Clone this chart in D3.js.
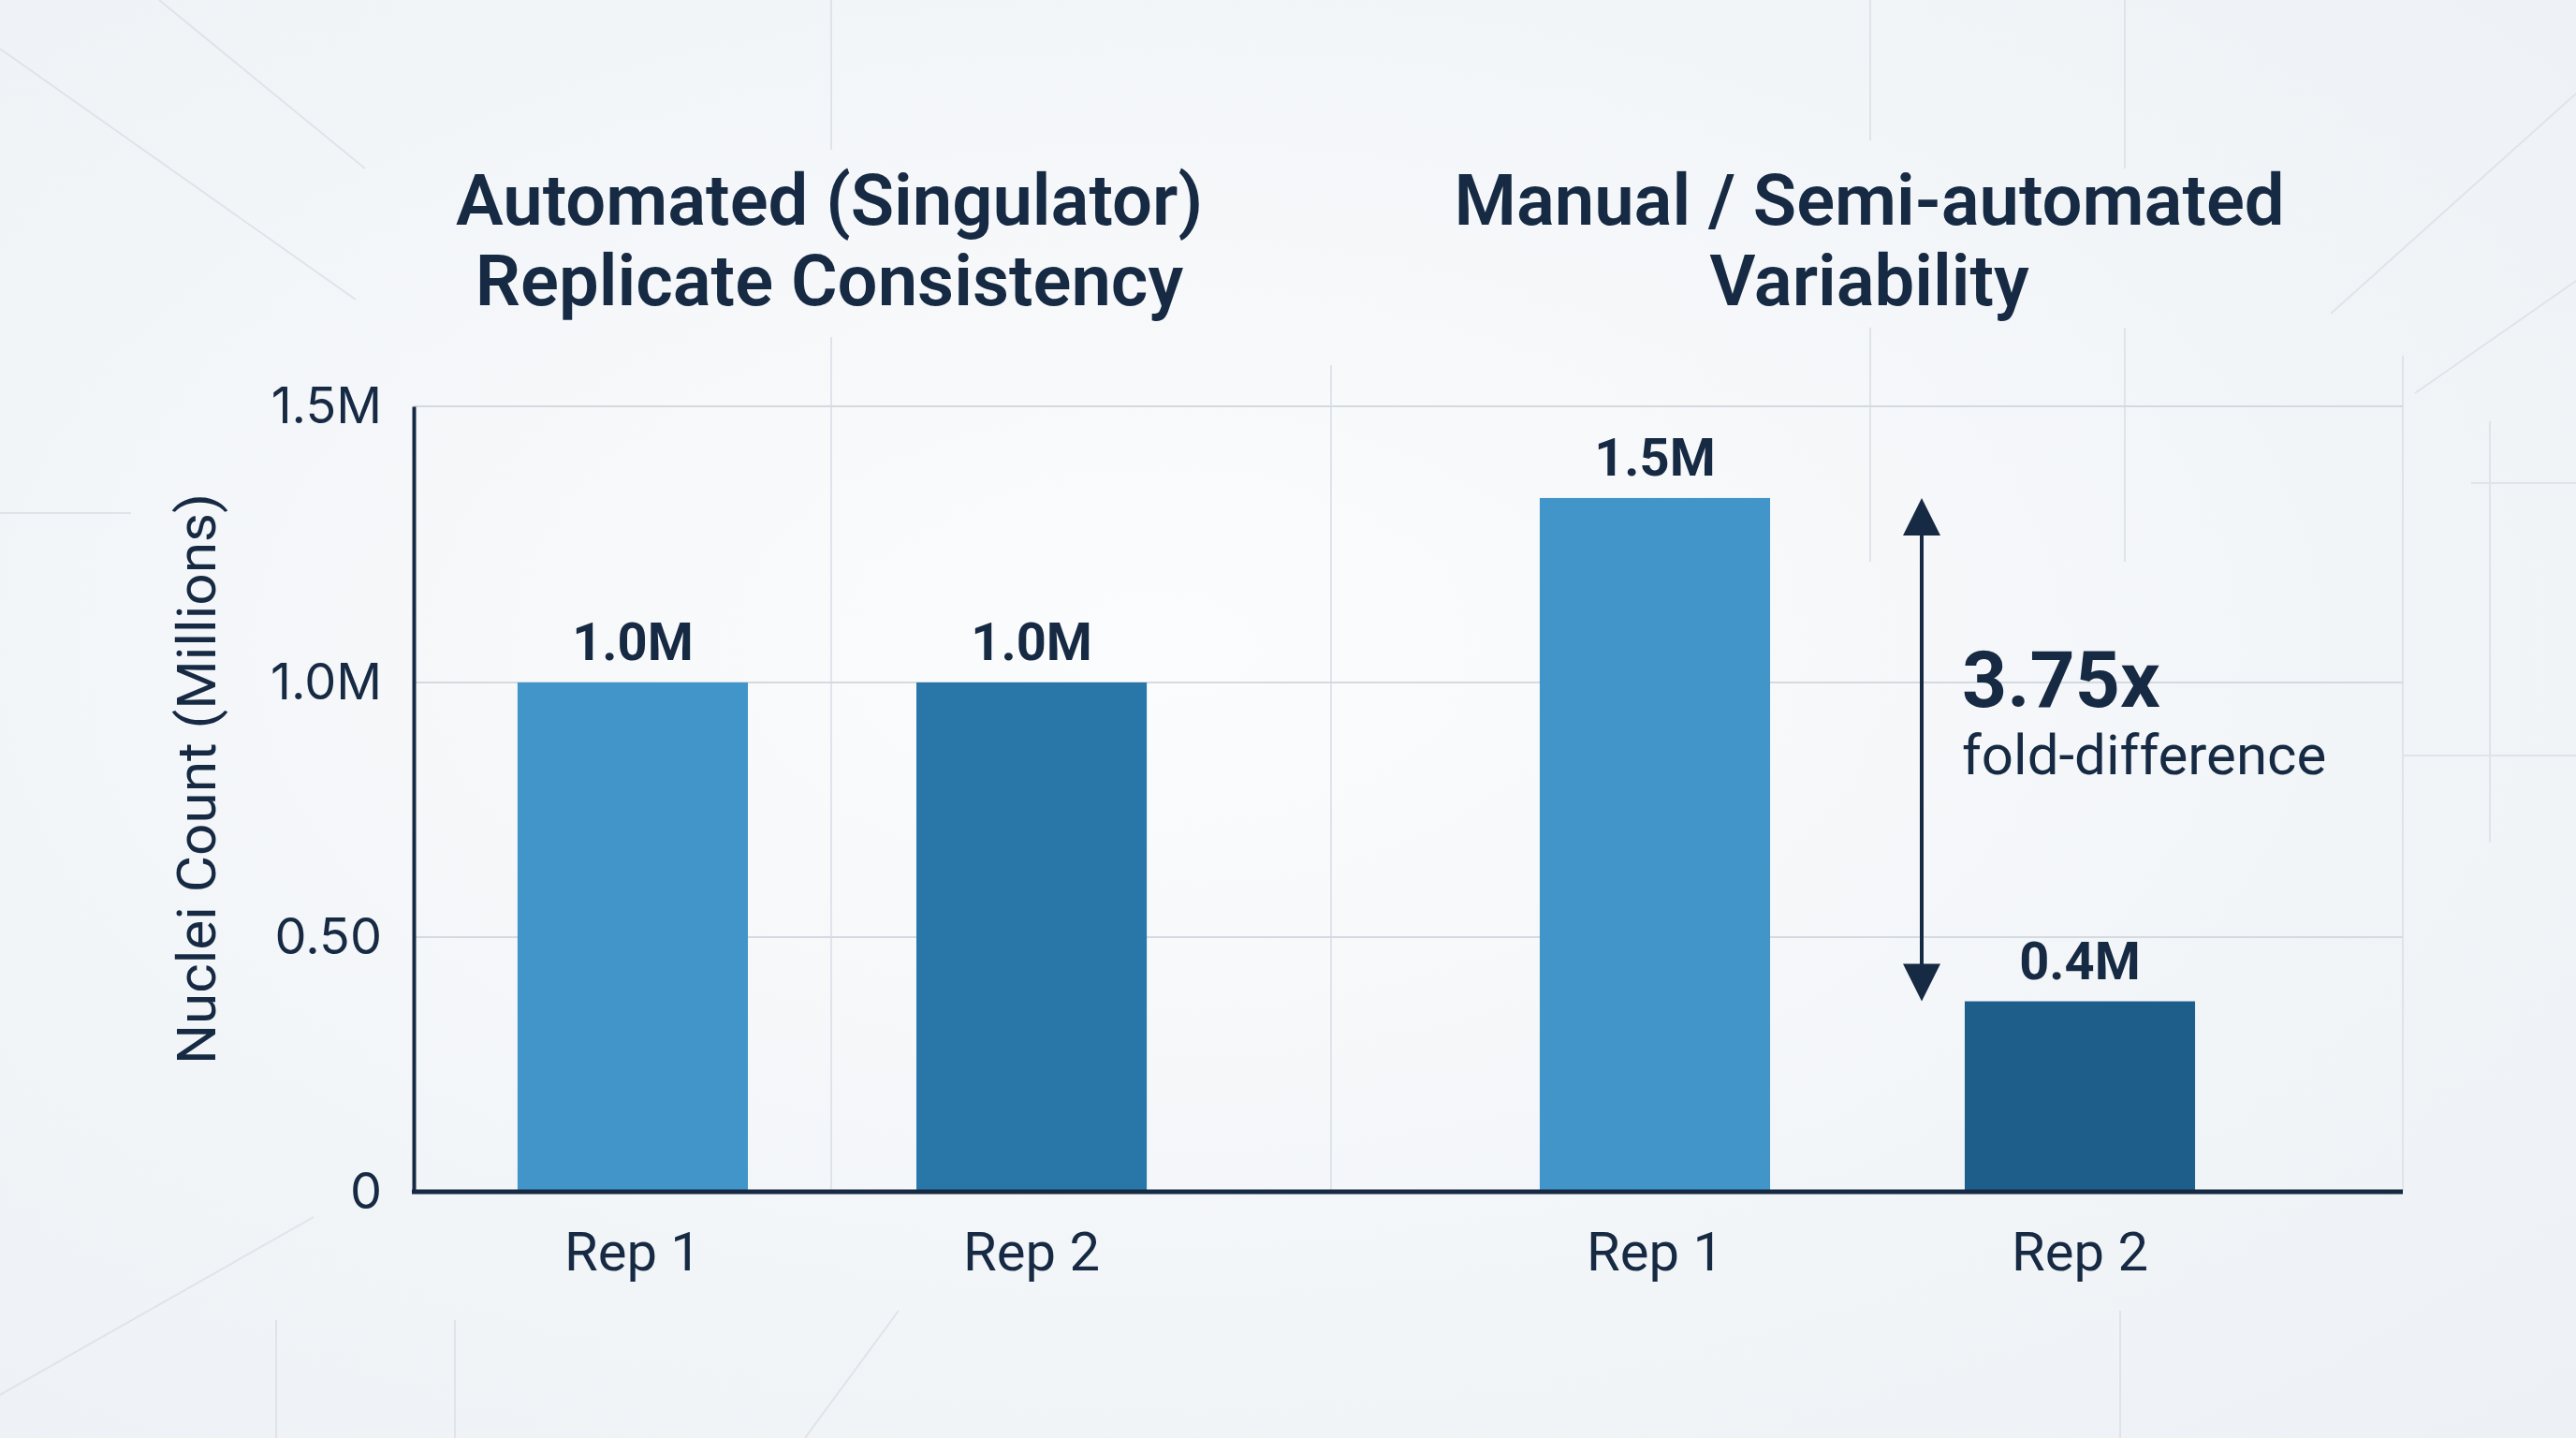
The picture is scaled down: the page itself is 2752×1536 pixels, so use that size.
<!DOCTYPE html>
<html>
<head>
<meta charset="utf-8">
<script src="https://cdn.jsdelivr.net/npm/d3@7"></script>
<style>
  html, body { margin: 0; padding: 0; background: #f3f6f9; }
  svg { display: block; font-family: Roboto, "Noto Sans", sans-serif; }
</style>
</head>
<body>
<svg id="chart" width="2752" height="1536"></svg>
<script>
// data
var groups = ["Automated", "Manual"];
var groupTitles = [
  ["Automated (Singulator)", "Replicate Consistency"],
  ["Manual / Semi-automated", "Variability"]
];
var reps = ["Rep 1", "Rep 2"];
var automatedValues = [1.0, 1.0];
var manualValues = [1.334, 0.374];
var valueLabels = [["1.0M", "1.0M"], ["1.5M", "0.4M"]];
var barColors = [["#4195c9", "#2976a9"], ["#4195c9", "#1e5e8a"]];
var yTicks = [0, 0.5, 1.0, 1.5];
var yTickLabels = ["0", "0.50", "1.0M", "1.5M"];
var foldText = "3.75x";
var foldSub = "fold-difference";

var ink = "#172a43";

var svg = d3.select("#chart"),
    width = +svg.attr("width"),
    height = +svg.attr("height");

// background
var defs = svg.append("defs");
var bg = defs.append("radialGradient").attr("id", "bg")
    .attr("cx", "45%").attr("cy", "45%").attr("r", "75%");
bg.append("stop").attr("offset", "0%").attr("stop-color", "#fbfcfd");
bg.append("stop").attr("offset", "100%").attr("stop-color", "#edf1f5");
svg.append("rect").attr("width", width).attr("height", height).attr("fill", "url(#bg)");

// faint decorative lines
var deco = [
  [0, 52, 380, 320], [170, 0, 390, 180], [0, 1490, 335, 1300], [860, 1536, 960, 1400],
  [2490, 335, 2752, 100], [2580, 420, 2752, 300],
  [888, 0, 888, 160], [888, 360, 888, 1272], [1422, 390, 1422, 1272],
  [1998, 0, 1998, 150], [1998, 350, 1998, 600], [2270, 0, 2270, 180], [2270, 350, 2270, 600],
  [2567, 380, 2567, 1272], [2660, 450, 2660, 900],
  [0, 548, 140, 548], [2567, 807, 2752, 807], [2640, 516, 2752, 516],
  [295, 1410, 295, 1536], [486, 1410, 486, 1536], [2265, 1400, 2265, 1536]
];
svg.append("g").selectAll("line").data(deco).enter().append("line")
    .attr("x1", function(d) { return d[0]; }).attr("y1", function(d) { return d[1]; })
    .attr("x2", function(d) { return d[2]; }).attr("y2", function(d) { return d[3]; })
    .attr("stroke", "#dfe4ea").attr("stroke-width", 2);

// scales
var plotLeft = 442, plotRight = 2567;
var y = d3.scaleLinear().domain([0, 1, 1.5]).range([1273, 729, 434]);

var x0 = d3.scaleBand().domain(groups).range([336, 2548]);
// the two panels space their bars slightly differently
var innerPad = { Automated: [0.4225, 0.509], Manual: [0.458, 0.447] };
var x1 = {};
groups.forEach(function(gname) {
  x1[gname] = d3.scaleBand().domain(reps).range([0, x0.bandwidth()])
      .paddingInner(innerPad[gname][0]).paddingOuter(innerPad[gname][1]);
});
function barX(d) { return x0(d.group) + x1[d.group](d.rep); }
function barW(d) { return x1[d.group].bandwidth(); }

// gridlines
svg.append("g").selectAll("line").data(yTicks.slice(1)).enter().append("line")
    .attr("x1", plotLeft).attr("x2", plotRight)
    .attr("y1", function(d) { return y(d); }).attr("y2", function(d) { return y(d); })
    .attr("stroke", "#d4dae1").attr("stroke-width", 2);

// titles
var titles = svg.append("g");
groups.forEach(function(gname, i) {
  var cx = [886, 1997][i];
  var t = titles.append("text")
      .attr("x", cx).attr("y", 240)
      .attr("text-anchor", "middle")
      .attr("fill", ink)
      .style("font-size", "76px").style("font-weight", 600);
  groupTitles[i].forEach(function(line, j) {
    t.append("tspan").attr("x", cx).attr("y", 240 + j * 86).text(line);
  });
});

// bars
var series = [automatedValues, manualValues];
var barData = [];
groups.forEach(function(gname, i) {
  reps.forEach(function(r, j) {
    barData.push({ group: gname, rep: r, value: series[i][j], label: valueLabels[i][j], color: barColors[i][j] });
  });
});

var bars = svg.append("g");
bars.selectAll("rect").data(barData).enter().append("rect")
    .attr("x", barX)
    .attr("width", barW)
    .attr("y", function(d) { return y(d.value); })
    .attr("height", function(d) { return y(0) - y(d.value); })
    .attr("fill", function(d) { return d.color; });

bars.selectAll(".vlabel").data(barData).enter().append("text")
    .attr("class", "vlabel")
    .attr("x", function(d) { return barX(d) + barW(d) / 2; })
    .attr("y", function(d) { return y(d.value) - 24; })
    .attr("text-anchor", "middle")
    .attr("fill", ink)
    .style("font-size", "56px").style("font-weight", 700)
    .text(function(d) { return d.label; });

// x labels
svg.append("g").selectAll("text").data(barData).enter().append("text")
    .attr("x", function(d) { return barX(d) + barW(d) / 2; })
    .attr("y", 1357)
    .attr("text-anchor", "middle")
    .attr("fill", ink)
    .style("font-size", "58px")
    .text(function(d) { return d.rep; });

// y axis
var yAxis = svg.append("g")
    .attr("transform", "translate(" + plotLeft + ",0)")
    .call(d3.axisLeft(y).tickValues(yTicks).tickSize(0).tickPadding(34)
      .tickFormat(function(d, i) { return yTickLabels[i]; }));
yAxis.select(".domain").attr("stroke", ink).attr("stroke-width", 4);
yAxis.selectAll("text")
    .attr("fill", ink)
    .style("font-size", "54px")
    .style("font-family", "Inter, Roboto, sans-serif");

// x axis line
svg.append("line")
    .attr("x1", plotLeft - 2).attr("x2", plotRight)
    .attr("y1", y(0)).attr("y2", y(0))
    .attr("stroke", ink).attr("stroke-width", 5);

// y axis title
svg.append("text")
    .attr("transform", "translate(230," + 832 + ") rotate(-90)")
    .attr("text-anchor", "middle")
    .attr("fill", ink)
    .attr("textLength", 610)
    .attr("lengthAdjust", "spacingAndGlyphs")
    .style("font-size", "57px")
    .text("Nuclei Count (Millions)");

// fold-difference arrow between the two manual bars
var ax = 2053;
var yTop = y(manualValues[0]), yBot = y(manualValues[1]);
var arrow = svg.append("g").attr("fill", ink).attr("stroke", ink);
arrow.append("line")
    .attr("x1", ax).attr("x2", ax)
    .attr("y1", yTop + 30).attr("y2", yBot - 30)
    .attr("stroke-width", 4);
arrow.append("path")
    .attr("d", "M" + ax + "," + yTop + "l-20,40h40z").attr("stroke", "none");
arrow.append("path")
    .attr("d", "M" + ax + "," + yBot + "l-20,-40h40z").attr("stroke", "none");

svg.append("text")
    .attr("x", 2096).attr("y", 755)
    .attr("fill", ink)
    .style("font-size", "84px").style("font-weight", 700)
    .text(foldText);
svg.append("text")
    .attr("x", 2096).attr("y", 827)
    .attr("fill", ink)
    .style("font-size", "60px")
    .text(foldSub);
</script>
</body>
</html>
